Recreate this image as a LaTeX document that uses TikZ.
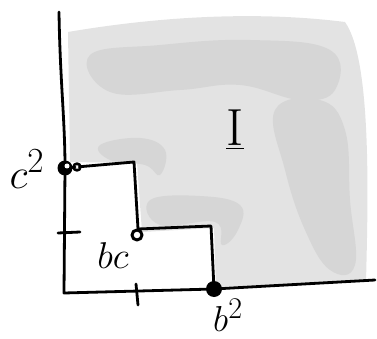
\documentclass[tikz,border=0pt]{standalone}
\begin{document}
\begin{tikzpicture}[x=1pt,y=-1pt,line cap=round,line join=round,
  ink/.style={line width=2.8pt,black},
  lbl/.style={inner sep=0pt,font=\Huge},
  shadelight/.style={fill=black!11},
  shadedark/.style={fill=black!16}]
\useasboundingbox (0,0) rectangle (377,339);
% shaded ideal region
\fill[shadelight] (70,162) -- (68,32) .. controls (150,18) and (250,10) .. (345,22)
  .. controls (372,60) and (368,200) .. (366,282) -- (216,287) -- (214,228)
  -- (142,232) -- (137,163) -- cycle;
% darker patches
\fill[shadedark] plot[smooth cycle,tension=0.7] coordinates {(90,55) (160,45) (250,40) (330,50) (335,90) (300,100) (240,85) (180,90) (110,92)};
\fill[shadedark] plot[smooth cycle,tension=0.7] coordinates {(275,110) (320,100) (345,130) (350,200) (355,265) (330,270) (305,230) (285,170)};
\fill[shadedark] plot[smooth cycle,tension=0.7] coordinates {(100,145) (140,138) (165,150) (160,175) (145,165) (110,160)};
\fill[shadedark] plot[smooth cycle,tension=0.7] coordinates {(150,200) (200,196) (240,205) (238,230) (222,245) (215,222) (160,225)};
% named points
\coordinate (ytop) at (59,12);
\coordinate (O) at (64,293);
\coordinate (xend) at (375,280);
\coordinate (s1) at (134,162);
\coordinate (s1b) at (138,229);
\coordinate (s2) at (211,226);
\node[circle,fill=black,minimum size=15pt,inner sep=0pt] (c2) at (65,168) {};
\node[circle,fill=black,minimum size=16pt,inner sep=0pt] (b2) at (214,289) {};
% axes
\draw[ink] (ytop) .. controls (60,80) and (65,120) .. (c2.center) -- (O) -- (b2.center) -- (xend);
% staircase
\draw[ink] (c2.center) -- (s1) -- (s1b) -- (s2) -- (b2.center);
\node[circle,draw=black,line width=3pt,minimum size=10pt,inner sep=0pt,fill=white] (bc) at (137,235) {};
% extra marks on c^2 dot
\fill[white] (67,166) circle (2.5pt);
\draw[line width=2.4pt] (77,167) circle (3.5pt);
\fill[white] (77,167) circle (1.5pt);
% ticks
\coordinate (t1a) at (58,233); \coordinate (t1b) at (80,232);
\coordinate (t2a) at (136,284); \coordinate (t2b) at (138,305);
\draw[ink] (t1a) -- (t1b);
\draw[ink] (t2a) -- (t2b);
% labels
\node[lbl,scale=1.7] (lc2) at (27,169) {$c^2$};
\node[lbl,scale=1.5] (lbc) at (113,256) {$bc$};
\node[lbl,scale=1.45] (lb2) at (228,315) {$b^2$};
\node[lbl,scale=2.1] (lI) at (235,130) {$\underline{\mathrm{I}}$};
\end{tikzpicture}
\end{document}
